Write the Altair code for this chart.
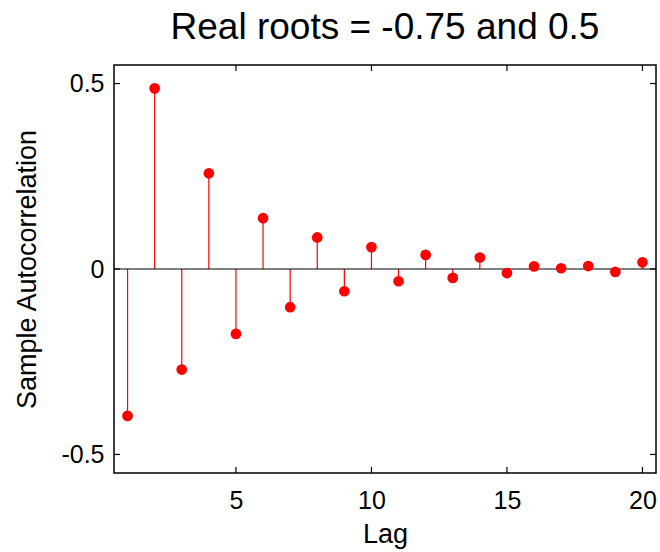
import altair as alt
import pandas as pd

lags = list(range(1, 21))
acf = [-0.396, 0.487, -0.271, 0.258, -0.175, 0.137, -0.103, 0.085, -0.060, 0.059,
       -0.033, 0.038, -0.024, 0.031, -0.011, 0.007, 0.002, 0.008, -0.008, 0.018]
x_ticks = [5, 10, 15, 20]
y_ticks = [-0.5, 0, 0.5]
title_text = "Real roots = -0.75 and 0.5"

W, H = 542, 408
FONT = "Liberation Sans"

df = pd.DataFrame({"lag": lags, "acf": acf})
xt = pd.DataFrame({"lag": x_ticks})
yt = pd.DataFrame({"acf": y_ticks})

xscale = alt.Scale(domain=[0.5, 20.5], nice=False, zero=False)
yscale = alt.Scale(domain=[-0.55, 0.55], nice=False, zero=False)

xaxis = alt.Axis(values=x_ticks, title="Lag", grid=False, domain=False, ticks=False, tickSize=0,
                 labelFont=FONT, labelFontSize=25, labelColor="black", labelPadding=35,
                 labelBaseline="alphabetic",
                 titleFont=FONT, titleFontSize=27, titleFontWeight="normal", titleColor="black",
                 titleY=69, titleBaseline="alphabetic")
yaxis = alt.Axis(values=y_ticks, title="Sample Autocorrelation", grid=False, domain=False, ticks=False,
                 tickSize=0, labelFont=FONT, labelFontSize=25, labelColor="black", labelPadding=10,
                 labelExpr="datum.value == 0 ? '0' : (datum.value < 0 ? '-' : '') + format(abs(datum.value), '.1f')",
                 titleFont=FONT, titleFontSize=27, titleFontWeight="normal", titleColor="black",
                 titleX=-79, titleBaseline="alphabetic")

base = alt.Chart(df)

zero_line = alt.Chart(pd.DataFrame({"acf": [0]})).mark_rule(color="black", strokeWidth=1.2).encode(
    y=alt.Y("acf:Q", scale=yscale), x=alt.value(0), x2=alt.value(W)
)

stems = base.mark_rule(color="#ff0000", strokeWidth=1.2).encode(
    x=alt.X("lag:Q", scale=xscale, axis=xaxis),
    y=alt.Y("acf:Q", scale=yscale, axis=yaxis),
    y2=alt.datum(0),
)
dots = base.mark_circle(color="#ff0000", size=115, opacity=1).encode(
    x=alt.X("lag:Q", scale=xscale),
    y=alt.Y("acf:Q", scale=yscale),
)

tk = dict(color="black", strokeWidth=1.2)
xt_bottom = alt.Chart(xt).mark_rule(**tk).encode(
    x=alt.X("lag:Q", scale=xscale), y=alt.value(H), y2=alt.value(H - 6))
xt_top = alt.Chart(xt).mark_rule(**tk).encode(
    x=alt.X("lag:Q", scale=xscale), y=alt.value(0), y2=alt.value(6))
yt_left = alt.Chart(yt).mark_rule(**tk).encode(
    y=alt.Y("acf:Q", scale=yscale), x=alt.value(0), x2=alt.value(6))
yt_right = alt.Chart(yt).mark_rule(**tk).encode(
    y=alt.Y("acf:Q", scale=yscale), x=alt.value(W), x2=alt.value(W - 6))

chart = alt.layer(stems, zero_line, dots, xt_bottom, xt_top, yt_left, yt_right).properties(
    width=W, height=H,
    title=alt.TitleParams(title_text, font=FONT, fontSize=37, fontWeight="normal", color="black",
                          anchor="middle", baseline="alphabetic", offset=24, dy=36),
    autosize=alt.AutoSizeParams(type="none"),
    padding={"left": 114, "top": 65, "right": 4, "bottom": 79},
    background="white",
).configure_view(stroke="black", strokeWidth=1.5)

chart.save("out.html", embed_options={"renderer": "svg", "actions": False})
